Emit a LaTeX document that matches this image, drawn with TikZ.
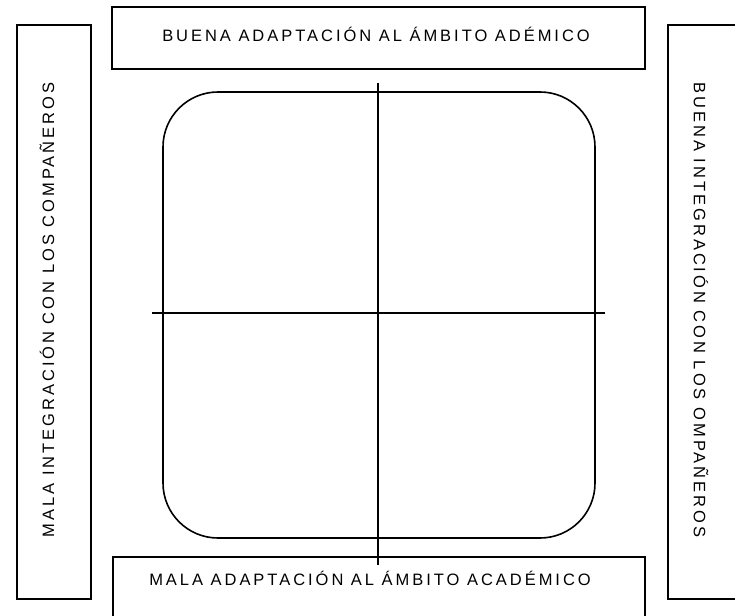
\documentclass[tikz,border=0pt]{standalone}
\usepackage{fontspec}
\newfontfamily\lbl[LetterSpace=18]{Liberation Sans}
\begin{document}
\begin{tikzpicture}[x=1pt,y=-1pt,
  frame/.style={draw=black, line width=1.6pt},
  axis/.style={draw=black, line width=1.4pt},
  lab/.style={font=\lbl\fontsize{16.5}{18}\selectfont, inner sep=0pt}]
\useasboundingbox (0,0) rectangle (735,615);
\begin{scope}
\clip (0,0) rectangle (735,615);
% outer boxes
\draw[frame] (112,7) rectangle (645,69);
\draw[frame] (113,557) rectangle (645,630);
\draw[frame] (17,25) rectangle (91,599);
\draw[frame] (668,25) rectangle (750,599);
\end{scope}
% central rounded square
\node[frame, rounded corners=55pt, minimum width=432pt, minimum height=446pt, inner sep=0pt] (sq) at (379,315) {};
% axes
\coordinate (vt) at (378,83);
\coordinate (vb) at (378,565);
\coordinate (hl) at (152,313);
\coordinate (hr) at (605,313);
\draw[axis] (vt) -- (vb);
\draw[axis] (hl) -- (hr);
% labels
\node[lab] (top) at (376,34) {BUENA ADAPTACIÓN AL ÁMBITO ADÉMICO};
\node[lab] (bot) at (370,578) {MALA ADAPTACIÓN AL ÁMBITO ACADÉMICO};
\node[lab, rotate=90] (left) at (47,310) {MALA INTEGRACIÓN CON LOS COMPAÑEROS};
\node[lab, rotate=-90] (right) at (701,310) {BUENA INTEGRACIÓN CON LOS OMPAÑEROS};
\end{tikzpicture}
\end{document}
